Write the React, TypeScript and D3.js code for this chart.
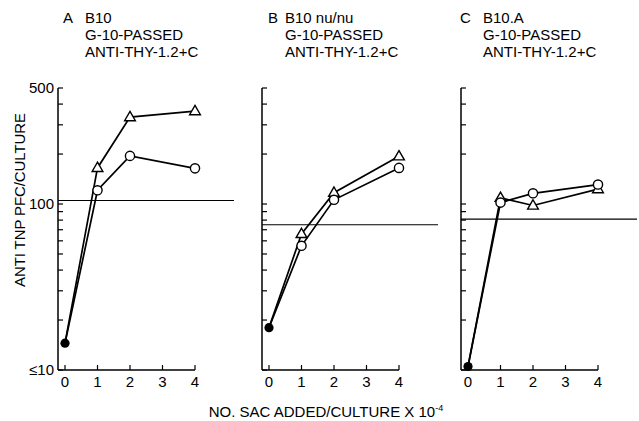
import React, { useRef, useEffect } from 'react';
import * as d3 from 'd3';

// x: number of SAC added per culture (x 10^-4)
const doses = [0, 1, 2, 4];
const xTicks = [0, 1, 2, 3, 4];

const panelLetters = ['A', 'B', 'C'];
const strains = ['B10', 'B10 nu/nu', 'B10.A'];
const treatment = ['G-10-PASSED', 'ANTI-THY-1.2+C'];

// dose 0 is the shared filled point
const triangleA = [14.5, 165, 334, 363];
const circleA = [14.5, 121, 195, 164];
const triangleB = [18, 66, 117, 194];
const circleB = [18, 56, 106, 165];
const triangleC = [10.5, 109, 98, 123];
const circleC = [10.5, 102, 116, 131];

// horizontal control level in each panel
const controlLevel = [105, 75, 81];

const yTicks = [10, 20, 30, 40, 50, 60, 70, 80, 90, 100, 200, 300, 400, 500];
const yLabelValues = [10, 100, 500];
const yLabelTexts = ['≤10', '100', '500'];

const FONT = '"Liberation Sans", Arial, Helvetica, sans-serif';

function App() {
  const ref = useRef<SVGSVGElement>(null);

  useEffect(() => {
    draw();
  }, []);

  const draw = () => {
    const svg = d3.select(ref.current);
    svg.selectAll('*').remove();

    const y = d3.scaleLog().domain([10, 500]).range([370, 88]);

    const panels = [
      { axisX: 58, letterX: 63, textX: 85, tri: triangleA, circ: circleA },
      { axisX: 262, letterX: 268, textX: 285, tri: triangleB, circ: circleB },
      { axisX: 461, letterX: 460, textX: 483, tri: triangleC, circ: circleC },
    ];

    panels.forEach((p, i) => {
      const g = svg.append('g');
      const x = d3.scaleLinear().domain([0, 4]).range([p.axisX + 7, p.axisX + 137]);

      // header text
      g.append('text')
        .attr('x', p.letterX)
        .attr('y', 23)
        .text(panelLetters[i]);
      [strains[i], ...treatment].forEach((t, j) => {
        g.append('text')
          .attr('x', p.textX)
          .attr('y', 23 + j * 17)
          .text(t);
      });

      // axes
      g.append('line')
        .attr('x1', p.axisX).attr('x2', p.axisX)
        .attr('y1', y(500)).attr('y2', y(10))
        .attr('stroke', '#000').attr('stroke-width', 1.5);
      g.append('line')
        .attr('x1', p.axisX).attr('x2', x(4))
        .attr('y1', y(10)).attr('y2', y(10))
        .attr('stroke', '#000').attr('stroke-width', 1.5);

      g.selectAll('.ytick')
        .data(yTicks)
        .enter()
        .append('line')
        .attr('x1', p.axisX).attr('x2', p.axisX + 5)
        .attr('y1', (d) => y(d)).attr('y2', (d) => y(d))
        .attr('stroke', '#000').attr('stroke-width', 1.2);

      g.selectAll('.xtick')
        .data(xTicks)
        .enter()
        .append('line')
        .attr('x1', (d) => x(d)).attr('x2', (d) => x(d))
        .attr('y1', y(10)).attr('y2', y(10) - 5)
        .attr('stroke', '#000').attr('stroke-width', 1.2);

      g.selectAll('.xlab')
        .data(xTicks)
        .enter()
        .append('text')
        .attr('x', (d) => x(d))
        .attr('y', 387)
        .attr('text-anchor', 'middle')
        .text((d) => d);

      // control level
      g.append('line')
        .attr('x1', p.axisX).attr('x2', p.axisX + 176)
        .attr('y1', y(controlLevel[i])).attr('y2', y(controlLevel[i]))
        .attr('stroke', '#000').attr('stroke-width', 1.2);

      const line = d3
        .line<number>()
        .x((d, k) => x(doses[k]))
        .y((d) => y(d));

      [p.tri, p.circ].forEach((s) => {
        g.append('path')
          .attr('d', line(s))
          .attr('fill', 'none')
          .attr('stroke', '#000')
          .attr('stroke-width', 1.7);
      });

      const tri = d3.symbol(d3.symbolTriangle, 50);
      g.selectAll('.tri')
        .data(p.tri.slice(1))
        .enter()
        .append('path')
        .attr('d', tri)
        .attr('transform', (d, k) => `translate(${x(doses[k + 1])},${y(d) + 0.5})`)
        .attr('fill', '#fff')
        .attr('stroke', '#000')
        .attr('stroke-width', 1.4);

      g.selectAll('.circ')
        .data(p.circ.slice(1))
        .enter()
        .append('circle')
        .attr('cx', (d, k) => x(doses[k + 1]))
        .attr('cy', (d) => y(d))
        .attr('r', 4.6)
        .attr('fill', '#fff')
        .attr('stroke', '#000')
        .attr('stroke-width', 1.4);

      g.append('circle')
        .attr('cx', x(doses[0]))
        .attr('cy', y(p.circ[0]))
        .attr('r', 4.6)
        .attr('fill', '#000');
    });

    // y tick labels (panel A only)
    svg.selectAll('.ylab')
      .data(yLabelValues)
      .enter()
      .append('text')
      .attr('x', 54)
      .attr('y', (d) => y(d) + 5)
      .attr('text-anchor', 'end')
      .text((d, k) => yLabelTexts[k]);

    svg.append('text')
      .attr('transform', 'translate(25,200) rotate(-90)')
      .attr('text-anchor', 'middle')
      .attr('textLength', 174)
      .text('ANTI TNP PFC/CULTURE');

    const title = svg.append('text')
      .attr('x', 326)
      .attr('y', 417)
      .attr('text-anchor', 'middle');
    title.append('tspan').text('NO. SAC ADDED/CULTURE X 10');
    title.append('tspan')
      .attr('dy', -6)
      .attr('font-size', 9)
      .text('-4');
  };

  return (
    <svg
      ref={ref}
      width={639}
      height={421}
      style={{ position: 'absolute', left: 0, top: 0, background: '#fff' }}
      fontFamily={FONT}
      fontSize={15}
      fill="#000"
    />
  );
}

export default App;
